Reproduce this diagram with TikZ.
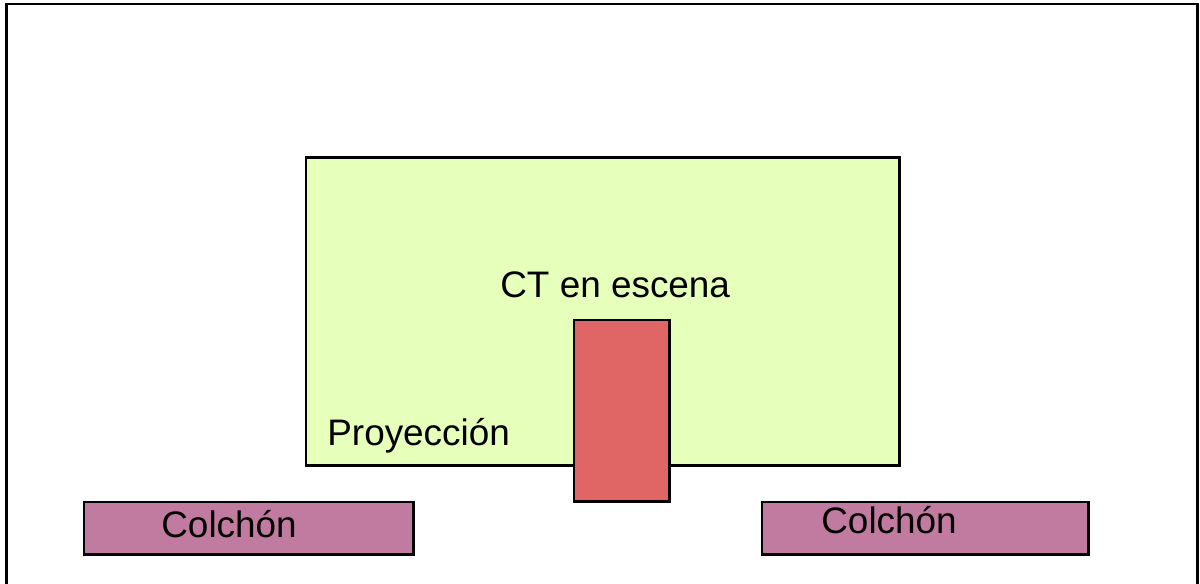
\documentclass[tikz,border=0pt]{standalone}
\usepackage{fontspec}
\setmainfont{Liberation Sans}
\usepackage{tikz}

\definecolor{proyfill}{HTML}{E6FFBA}
\definecolor{ctfill}{HTML}{E06666}
\definecolor{colchonfill}{HTML}{C27BA0}

\begin{document}
\begin{tikzpicture}[x=0.02cm, y=-0.02cm]
    \tikzstyle{zona} = [rectangle, draw, line width=1.4pt, anchor=north west, inner sep=0pt]
    \tikzstyle{etiqueta} = [anchor=base west, inner sep=0pt, font=\fontsize{21}{25}\selectfont]

    \useasboundingbox (0,0) rectangle (1200,584);
    \clip (0,0) rectangle (1200,584);

    % marco
    \draw[line width=1.4pt] (6.5,4) rectangle (1197.5,600);

    \node[zona, fill=proyfill, minimum width=11.88cm, minimum height=6.16cm] (proy) at (304.5,156.5) {};
    \node[zona, fill=ctfill, minimum width=1.92cm, minimum height=3.64cm] (ct) at (572.5,318.5) {};
    \node[zona, fill=colchonfill, minimum width=6.6cm, minimum height=1.06cm] (colchonA) at (82.5,500.5) {};
    \node[zona, fill=colchonfill, minimum width=6.54cm, minimum height=1.06cm] (colchonB) at (760.5,500.5) {};

    \node[etiqueta] (ctlabel) at (500,297) {CT en escena};
    \node[etiqueta] (proylabel) at (327,445) {Proyección};
    \node[etiqueta] (colchonAlabel) at (161,537) {Colchón};
    \node[etiqueta] (colchonBlabel) at (821,533) {Colchón};
\end{tikzpicture}
\end{document}
